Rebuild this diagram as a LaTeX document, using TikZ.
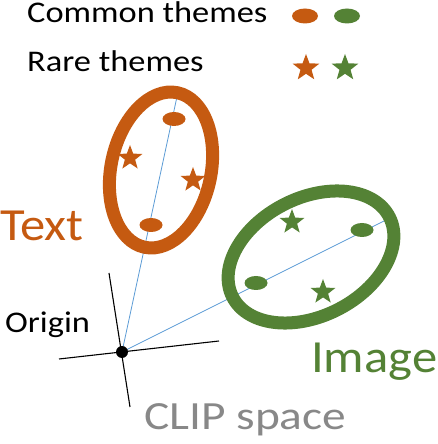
\documentclass[tikz,border=0pt]{standalone}
\usepackage{graphicx}
\usepackage{fontspec}
\setmainfont{Carlito}
\usetikzlibrary{shapes.geometric}
\definecolor{orng}{HTML}{C55A11}
\definecolor{grn}{HTML}{548235}
\definecolor{blu}{HTML}{5B9BD5}
\definecolor{clipgray}{HTML}{888888}
\newcommand{\wide}[2]{\scalebox{#1}[1]{#2}}
\tikzset{
  lbl/.style={inner sep=0pt, anchor=base west, font=\fontsize{30}{30}\selectfont},
  big/.style={inner sep=0pt, anchor=base west, font=\fontsize{46}{46}\selectfont},
  dot/.style={ellipse, fill=#1, draw=none, inner sep=0pt, minimum width=23pt, minimum height=14pt},
  legdot/.style={ellipse, fill=#1, draw=none, inner sep=0pt, minimum width=26pt, minimum height=15pt},
  starm/.style={star, star points=5, star point ratio=2.4, fill=#1, draw=none, inner sep=0pt, minimum size=28pt},
  ring/.style={ellipse, draw=#1, line width=13pt, inner sep=0pt},
  axis/.style={black, line width=1.1pt},
  ray/.style={blu, line width=0.8pt},
}
\begin{document}
\begin{tikzpicture}[x=1pt,y=1pt]
\useasboundingbox (0,0) rectangle (438,444);
% legend
\node[lbl] (common) at (27,421) {\wide{1.147}{Common themes}};
\node[lbl] (rare) at (27,372) {\wide{1.147}{Rare themes}};
\node[legdot=orng] (ld1) at (305,428) {};
\node[legdot=grn] (ld2) at (347,428) {};
\node[starm=orng] (ls1) at (306,376) {};
\node[starm=grn] (ls2) at (345,376) {};
% axes
\coordinate (O) at (122,92);
\coordinate (vt) at (109,171);
\coordinate (vb) at (130,37);
\coordinate (hl) at (59,85);
\coordinate (hr) at (219,103);
\coordinate (rt) at (178,352);
\coordinate (ri) at (390,226);
\draw[axis] (vt) -- (vb);
\draw[axis] (hl) -- (hr);
% rays
\draw[ray] (O) -- (rt);
\draw[ray] (O) -- (ri);
% orange ellipse
\node[ring=orng, minimum width=100pt, minimum height=158pt, rotate=-12] (te) at (161,274) {};
\node[dot=orng] (td1) at (174,325) {};
\node[dot=orng] (td2) at (151,219) {};
\node[starm=orng, minimum size=26pt] (ts1) at (130,286) {};
\node[starm=orng, minimum size=26pt] (ts2) at (193,264) {};
% green ellipse
\node[ring=grn, minimum width=176pt, minimum height=118pt, rotate=27] (ie) at (311,187) {};
\node[dot=grn] (id1) at (256,161) {};
\node[dot=grn] (id2) at (362,214) {};
\node[starm=grn, minimum size=26pt] (is1) at (292,222) {};
\node[starm=grn, minimum size=26pt] (is2) at (323,152) {};
% origin
\fill[black] (O) circle (6pt);
\node[lbl] (orig) at (5,111) {\wide{1.147}{Origin}};
% big labels
\node[big, text=orng] (txt) at (0,203) {\wide{1.1}{Text}};
\node[big, text=grn] (img) at (311,71) {\wide{1.1}{Image}};
\node[big, text=clipgray, font=\fontsize{40}{40}\selectfont] (clip) at (144,14) {\wide{1.185}{CLIP space}};
\end{tikzpicture}
\end{document}
